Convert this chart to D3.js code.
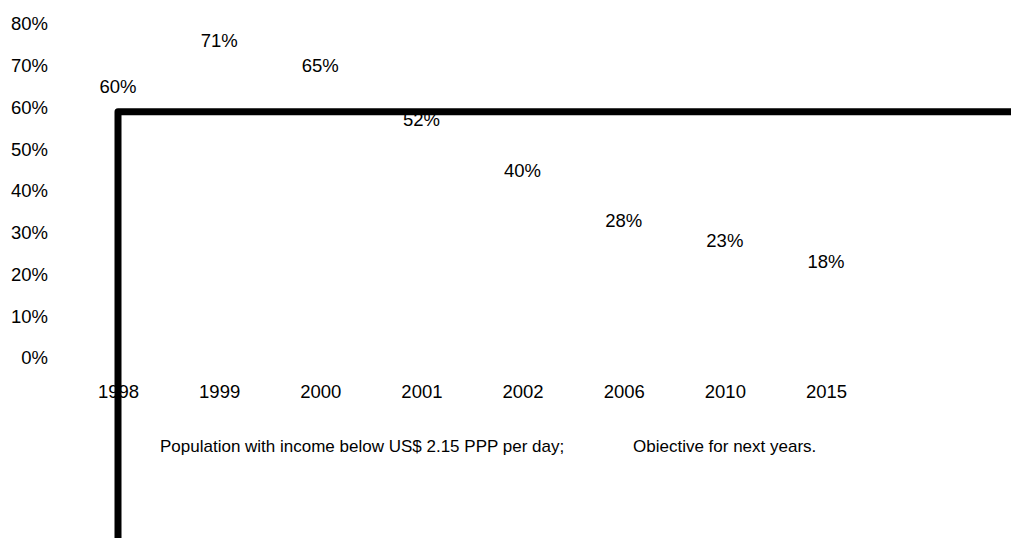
<!DOCTYPE html>
<html>
<head>
<meta charset="utf-8">
<script src="https://cdn.jsdelivr.net/npm/d3@7"></script>
<style>
  html, body { margin: 0; padding: 0; background: #fff; }
  svg { display: block; font-family: "Liberation Sans", Arial, sans-serif; }
</style>
</head>
<body>
<div id="graph"></div>
<script>
// chart data
const years = ['1998', '1999', '2000', '2001', '2002', '2006', '2010', '2015'];
const poverty = [60, 71, 65, 52, 40, 28, 23, 18];
const yTicks = [0, 10, 20, 30, 40, 50, 60, 70, 80];
const legendLabels = ['Population with income below US$ 2.15 PPP per day;', 'Obiective for next years.'];

var width = 1011;
var height = 538;
var fs = 18.5;

var svg = d3.select('#graph')
            .append('svg')
            .attr('width', width)
            .attr('height', height);

var x = d3.scalePoint()
          .domain(years)
          .range([118, 826]);

var y = d3.scaleLinear()
          .domain([0, 80])
          .range([358, 24]);

// y tick labels (no axis line drawn)
var yAxis = d3.axisLeft(y)
              .tickValues(yTicks)
              .tickFormat(d => d + '%')
              .tickSize(0)
              .tickPadding(0);

var gy = svg.append('g')
            .attr('transform', 'translate(48,0)')
            .call(yAxis);
gy.select('.domain').remove();
gy.selectAll('text')
  .attr('font-size', fs)
  .attr('font-family', '"Liberation Sans", Arial, sans-serif')
  .attr('fill', '#000');

// x tick labels
var xAxis = d3.axisBottom(x)
              .tickSize(0)
              .tickPadding(0);

var gx = svg.append('g')
            .attr('transform', 'translate(0,385)')
            .call(xAxis);
gx.select('.domain').remove();
gx.selectAll('text')
  .attr('font-size', fs)
  .attr('font-family', '"Liberation Sans", Arial, sans-serif')
  .attr('fill', '#000');

// value labels
svg.append('g')
   .selectAll('text')
   .data(poverty)
   .enter()
   .append('text')
   .attr('x', (d, i) => x(years[i]))
   .attr('y', d => y(d) - 14.5)
   .attr('text-anchor', 'middle')
   .attr('font-size', fs)
   .text(d => d + '%');

// the heavy L-shaped line
var baseY = y(59);
var line = d3.line();
svg.append('path')
   .attr('d', line([[x(years[0]), height + 10], [x(years[0]), baseY], [width + 10, baseY]]))
   .attr('fill', 'none')
   .attr('stroke', '#000')
   .attr('stroke-width', 7)
   .attr('stroke-linejoin', 'round');

// legend text
var legend = svg.append('g')
                .attr('font-size', 17)
                .attr('fill', '#000');
legend.append('text')
      .attr('x', 160)
      .attr('y', 452)
      .text(legendLabels[0]);
legend.append('text')
      .attr('x', 633)
      .attr('y', 452)
      .text(legendLabels[1]);
</script>
</body>
</html>
